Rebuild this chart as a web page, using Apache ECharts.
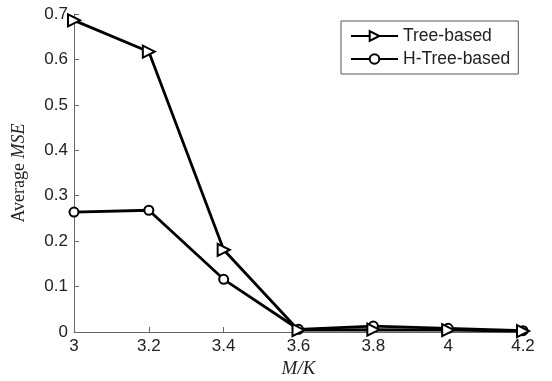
<!DOCTYPE html>
<html>
<head>
<meta charset="utf-8">
<script src="https://cdn.jsdelivr.net/npm/echarts@6/dist/echarts.min.js"></script>
<style>
html, body { margin: 0; padding: 0; background: #fff; }
#chart { width: 552px; height: 381px; }
</style>
</head>
<body>
<div id="chart"></div>
<script>
// M/K ratios on the x axis
const ratios = [3, 3.2, 3.4, 3.6, 3.8, 4, 4.2];
const treeBased = [0.686, 0.617, 0.181, 0.004, 0.005, 0.004, 0.002];
const hTreeBased = [0.264, 0.268, 0.116, 0.006, 0.013, 0.008, 0.003];
const seriesNames = ['Tree-based', 'H-Tree-based'];

function pairs(xs, ys) {
    let out = [];
    for (let i = 0; i < xs.length; i++) {
        out.push([xs[i], ys[i]]);
    }
    return out;
}

const chart = echarts.init(document.getElementById('chart'));
const axisColor = '#666';
const tickFont = { fontFamily: 'Liberation Sans', fontSize: 17, color: '#222' };

const option = {
    backgroundColor: '#fff',
    animation: false,
    grid: { left: 74, right: 29, top: 14, bottom: 49, outerBoundsMode: 'none' },
    legend: {
        orient: 'vertical',
        left: 341,
        top: 21,
        itemWidth: 47,
        itemHeight: 12,
        itemGap: 5,
        padding: [6, 8, 6, 9],
        borderColor: '#555',
        borderWidth: 1,
        textStyle: { fontFamily: 'Liberation Sans', fontSize: 17.5, color: '#222' },
        data: seriesNames
    },
    xAxis: {
        type: 'value',
        min: 3,
        max: 4.2,
        interval: 0.2,
        name: 'M/K',
        nameLocation: 'middle',
        nameGap: 27,
        nameTextStyle: { fontFamily: 'Liberation Serif', fontStyle: 'italic', fontSize: 19, color: '#222' },
        axisLine: { lineStyle: { color: axisColor, width: 1 } },
        axisTick: { inside: true, length: 5, lineStyle: { color: axisColor } },
        axisLabel: Object.assign({ margin: 6 }, tickFont),
        splitLine: { show: false }
    },
    yAxis: {
        type: 'value',
        min: 0,
        max: 0.7,
        interval: 0.1,
        name: 'Average {i|MSE}',
        nameLocation: 'middle',
        nameGap: 46,
        nameTextStyle: {
            fontFamily: 'Liberation Serif', fontSize: 18, color: '#222',
            rich: { i: { fontFamily: 'Liberation Serif', fontStyle: 'italic', fontSize: 18, color: '#222' } }
        },
        axisLine: { show: true, lineStyle: { color: axisColor, width: 1 } },
        axisTick: { show: true, inside: true, length: 5, lineStyle: { color: axisColor } },
        axisLabel: Object.assign({ margin: 6 }, tickFont),
        splitLine: { show: false }
    },
    series: [
        {
            name: seriesNames[0],
            type: 'line',
            data: pairs(ratios, treeBased),
            symbol: 'triangle',
            symbolRotate: -90,
            symbolSize: 12,
            lineStyle: { color: '#000', width: 2.8 },
            itemStyle: { color: '#fff', borderColor: '#000', borderWidth: 2 },
            z: 3
        },
        {
            name: seriesNames[1],
            type: 'line',
            data: pairs(ratios, hTreeBased),
            symbol: 'circle',
            symbolSize: 9,
            lineStyle: { color: '#000', width: 2.8 },
            itemStyle: { color: '#fff', borderColor: '#000', borderWidth: 2 },
            z: 2
        }
    ]
};
chart.setOption(option);
</script>
</body>
</html>
